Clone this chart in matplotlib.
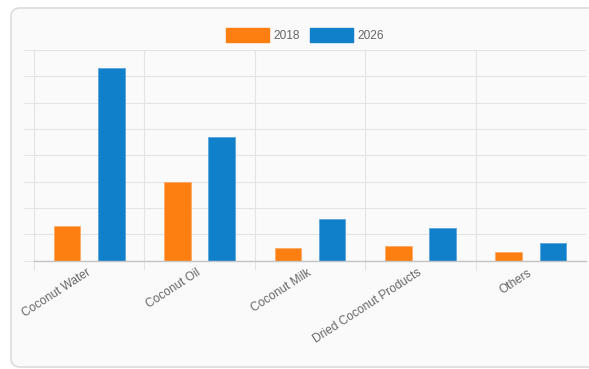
import numpy as np
import matplotlib.pyplot as plt
from matplotlib.patches import FancyBboxPatch, Patch

#%% Data
categories = ["Coconut Water", "Coconut Oil", "Coconut Milk", "Dried Coconut Products", "Others"]
years = ["2018", "2026"]
values_2018 = [1.3, 3.0, 0.48, 0.57, 0.34]
values_2026 = [7.3, 4.7, 1.6, 1.23, 0.67]
colors = ["#fd7f11", "#1080cb"]

#%% Figure and card background
W, H = 589, 369
fig = plt.figure(figsize=(W / 100, H / 100), dpi=100)
fig.patch.set_facecolor("white")
plt.rcParams["font.family"] = ["Liberation Sans", "DejaVu Sans"]

# rounded panel, drawn in pixel coords, behind the axes
card = FancyBboxPatch((11, 2), 600, H - 10, boxstyle="round,pad=0,rounding_size=9",
                      transform=None, facecolor="#fafafa", edgecolor="#dcdcdc",
                      linewidth=1.2, zorder=-10)
fig.patches.append(card)

#%% Axes
base_y, top_y = 260.7, 50
ax = fig.add_axes([34 / W, 1 - base_y / H, (586 - 34) / W, (base_y - top_y) / H])
ax.set_facecolor("none")
ax.set_zorder(1)

x = np.arange(len(categories))
width, offset = 0.24, 0.2
ax.bar(x - offset, values_2018, width, color=colors[0], edgecolor="#fdaa66", linewidth=0.6, zorder=3)
ax.bar(x + offset, values_2026, width, color=colors[1], edgecolor="#5aa6dd", linewidth=0.6, zorder=3)

grid_col = "#e4e4e4"
ax.set_xlim(-0.5, len(categories) - 0.5)
ax.set_ylim(0, 8)
ax.set_yticks(range(9))
ax.set_yticklabels([])
ax.tick_params(axis="y", length=7.2, width=0.8, color=grid_col, direction="out")
ax.grid(axis="y", color=grid_col, linewidth=0.8, zorder=0)

# category boundaries as minor ticks with vertical grid (none on the far right)
ax.set_xticks(np.arange(-0.5, len(categories) - 1), minor=True)
ax.tick_params(axis="x", which="minor", length=6.5, width=0.8, color=grid_col, direction="out")
ax.grid(axis="x", which="minor", color=grid_col, linewidth=0.8, zorder=0)
ax.set_xticks(x)
ax.set_xticklabels(categories, fontsize=8.6, color="#666666")
ax.tick_params(axis="x", which="major", length=0, pad=7.9)
plt.setp(ax.get_xticklabels(), rotation=33, ha="right", va="center", rotation_mode="anchor")

for side in ["top", "right"]:
    ax.spines[side].set_visible(False)
ax.spines["left"].set_color(grid_col)
ax.spines["left"].set_linewidth(0.8)
ax.spines["bottom"].set_color("#c4c4c4")
ax.spines["bottom"].set_linewidth(1.0)
ax.spines["bottom"].set_zorder(4)

#%% Legend
handles = [Patch(facecolor=c, edgecolor=c, label=y) for c, y in zip(colors, years)]
fig.legend(handles=handles, loc="center", bbox_to_anchor=(305 / W, 1 - 35 / H), ncol=2,
           frameon=False, fontsize=8.6, labelcolor="#666666", handlelength=3.6,
           handleheight=1.4, handletextpad=0.35, columnspacing=0.9)

fig.savefig("out.png", dpi=100)
